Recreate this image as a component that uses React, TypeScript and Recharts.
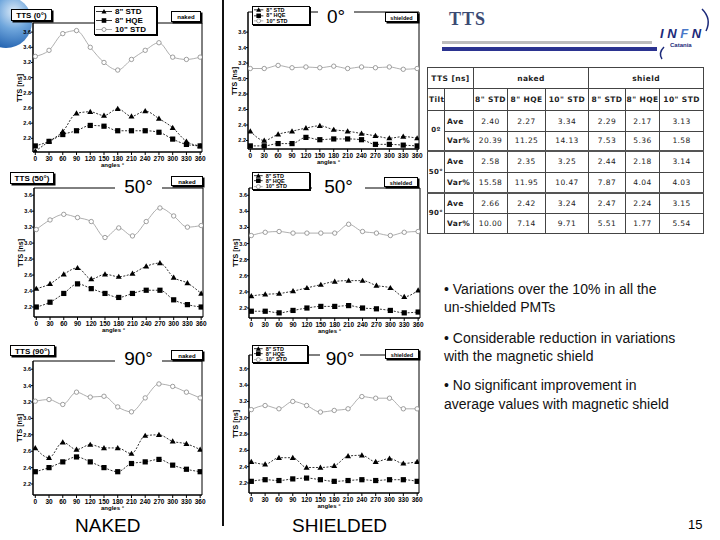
import { Line, LineChart, ReferenceArea, XAxis, YAxis } from "recharts";

const ANGLES = [0, 30, 60, 90, 120, 150, 180, 210, 240, 270, 300, 330, 360];
const Y_TICKS = [2.2, 2.4, 2.6, 2.8, 3.0, 3.2, 3.4, 3.6];

// naked, tilt 0
const NAKED_0_STD8 = [2.03, 2.16, 2.29, 2.53, 2.55, 2.5, 2.59, 2.49, 2.56, 2.46, 2.34, 2.16, 2.1];
const NAKED_0_HQE8 = [2.1, 2.16, 2.25, 2.3, 2.37, 2.36, 2.3, 2.3, 2.3, 2.28, 2.19, 2.12, 2.1];
const NAKED_0_STD10 = [3.28, 3.36, 3.58, 3.62, 3.4, 3.2, 3.1, 3.24, 3.36, 3.46, 3.27, 3.24, 3.27];
// shielded, tilt 0
const SHIELD_0_STD8 = [2.32, 2.2, 2.28, 2.32, 2.36, 2.39, 2.34, 2.32, 2.29, 2.26, 2.23, 2.25, 2.23];
const SHIELD_0_HQE8 = [2.13, 2.13, 2.16, 2.16, 2.24, 2.21, 2.22, 2.22, 2.21, 2.15, 2.15, 2.14, 2.13];
const SHIELD_0_STD10 = [3.13, 3.13, 3.17, 3.14, 3.15, 3.14, 3.16, 3.13, 3.15, 3.14, 3.15, 3.12, 3.13];
// naked, tilt 50
const NAKED_50_STD8 = [2.43, 2.49, 2.61, 2.69, 2.55, 2.61, 2.58, 2.62, 2.71, 2.75, 2.57, 2.5, 2.37];
const NAKED_50_HQE8 = [2.2, 2.26, 2.37, 2.49, 2.43, 2.37, 2.32, 2.37, 2.41, 2.41, 2.29, 2.23, 2.2];
const NAKED_50_STD10 = [3.17, 3.29, 3.36, 3.32, 3.27, 3.07, 3.19, 3.09, 3.27, 3.44, 3.34, 3.2, 3.22];
// shielded, tilt 50
const SHIELD_50_STD8 = [2.35, 2.37, 2.38, 2.41, 2.45, 2.49, 2.53, 2.54, 2.54, 2.48, 2.45, 2.34, 2.42];
const SHIELD_50_HQE8 = [2.16, 2.16, 2.14, 2.17, 2.2, 2.22, 2.22, 2.23, 2.2, 2.19, 2.17, 2.14, 2.15];
const SHIELD_50_STD10 = [3.1, 3.14, 3.15, 3.13, 3.13, 3.13, 3.13, 3.24, 3.15, 3.13, 3.1, 3.14, 3.15];
// naked, tilt 90
const NAKED_90_STD8 = [2.64, 2.52, 2.71, 2.62, 2.68, 2.64, 2.64, 2.57, 2.79, 2.8, 2.72, 2.69, 2.62];
const NAKED_90_HQE8 = [2.35, 2.4, 2.47, 2.53, 2.47, 2.4, 2.35, 2.45, 2.47, 2.5, 2.43, 2.38, 2.35];
const NAKED_90_STD10 = [3.21, 3.23, 3.17, 3.32, 3.26, 3.27, 3.14, 3.08, 3.25, 3.42, 3.39, 3.32, 3.25];
// shielded, tilt 90
const SHIELD_90_STD8 = [2.46, 2.43, 2.51, 2.51, 2.39, 2.39, 2.41, 2.53, 2.54, 2.46, 2.5, 2.44, 2.46];
const SHIELD_90_HQE8 = [2.22, 2.24, 2.23, 2.25, 2.26, 2.24, 2.22, 2.23, 2.24, 2.23, 2.24, 2.24, 2.22];
const SHIELD_90_STD10 = [3.1, 3.15, 3.11, 3.2, 3.15, 3.07, 3.09, 3.11, 3.26, 3.24, 3.24, 3.11, 3.11];

const TABLE_TILTS = ["0º", "50°", "90°"];
const TABLE_COLS = ['8" STD', '8" HQE', '10" STD', '8" STD', '8" HQE', '10" STD'];
const TABLE_AVE = [
  ["2.40", "2.27", "3.34", "2.29", "2.17", "3.13"],
  ["2.58", "2.35", "3.25", "2.44", "2.18", "3.14"],
  ["2.66", "2.42", "3.24", "2.47", "2.24", "3.15"],
];
const TABLE_VAR = [
  ["20.39", "11.25", "14.13", "7.53", "5.36", "1.58"],
  ["15.58", "11.95", "10.47", "7.87", "4.04", "4.03"],
  ["10.00", "7.14", "9.71", "5.51", "1.77", "5.54"],
];

const SANS = '"Liberation Sans", Arial, sans-serif';

const triDot = (p: any) => (
  <path
    key={`t${p.index}`}
    d={`M${p.cx},${p.cy - 3} L${p.cx + 3},${p.cy + 2.2} L${p.cx - 3},${p.cy + 2.2}Z`}
    fill="#000"
  />
);
const sqDot = (p: any) => <rect key={`s${p.index}`} x={p.cx - 2.6} y={p.cy - 2.6} width={5.2} height={5.2} fill="#000" />;
const circDot = (p: any) => (
  <circle key={`c${p.index}`} cx={p.cx} cy={p.cy} r={2.2} fill="#fff" stroke="#888" strokeWidth={0.8} />
);

type Box = { l: number; t: number; r: number; b: number; yMin: number; yMax: number };

function TtsPanel({ std8, hqe8, std10, box }: { std8: number[]; hqe8: number[]; std10: number[]; box: Box }) {
  const rows = ANGLES.map((angle, i) => ({ angle, std8: std8[i], hqe8: hqe8[i], std10: std10[i] }));
  const { l, t, r, b, yMin, yMax } = box;
  return (
    <>
      <div style={{ position: "absolute", left: l - 30, top: t - 4 }}>
        <LineChart width={r - l + 34} height={b - t + 22} data={rows} margin={{ top: 4, right: 4, bottom: 0, left: 0 }}>
          <XAxis
            dataKey="angle"
            type="number"
            domain={[-5, 364]}
            ticks={ANGLES}
            interval={0}
            allowDataOverflow
            height={18}
            tickSize={3}
            tickMargin={1}
            stroke="#000"
            tick={{ fontSize: 6.5, fontWeight: 700, fill: "#000", fontFamily: SANS }}
          />
          <YAxis
            type="number"
            domain={[yMin, yMax]}
            ticks={Y_TICKS}
            allowDataOverflow
            width={30}
            tickSize={2}
            tickMargin={0}
            stroke="#000"
            tickFormatter={(v: number) => v.toFixed(1)}
            tick={{ fontSize: 5.5, fontWeight: 700, fill: "#000", fontFamily: SANS }}
          />
          <ReferenceArea x1={-5} x2={364} y1={yMin} y2={yMax} fill="none" stroke="#000" strokeWidth={1} />
          <Line dataKey="std10" type="monotone" stroke="#9a9a9a" strokeWidth={0.8} dot={circDot} isAnimationActive={false} />
          <Line dataKey="std8" type="monotone" stroke="#000" strokeWidth={0.8} strokeDasharray="2 1.5" dot={triDot} isAnimationActive={false} />
          <Line dataKey="hqe8" type="monotone" stroke="#000" strokeWidth={0.8} strokeDasharray="2 1.5" dot={sqDot} isAnimationActive={false} />
        </LineChart>
      </div>
      <div
        style={{
          position: "absolute",
          left: l - 14,
          top: (t + b) / 2,
          transform: "translate(-50%, -50%) rotate(-90deg)",
          fontSize: 7,
          fontWeight: 700,
          whiteSpace: "nowrap",
        }}
      >
        TTS [ns]
      </div>
      <div
        style={{
          position: "absolute",
          left: (l + r) / 2 - 5,
          top: b + 10,
          transform: "translateX(-50%)",
          fontSize: 6,
          fontWeight: 700,
          whiteSpace: "nowrap",
        }}
      >
        angles °
      </div>
    </>
  );
}

function TagBox({ left, top, w, h, text, size }: { left: number; top: number; w: number; h: number; text: string; size: number }) {
  return (
    <div
      style={{
        position: "absolute",
        left,
        top,
        width: w,
        height: h,
        border: "1px solid #000",
        boxShadow: "1.5px 1.5px 0 #000",
        background: "#fff",
        fontSize: size,
        fontWeight: 700,
        lineHeight: `${h}px`,
        textAlign: "center",
        whiteSpace: "nowrap",
        boxSizing: "border-box",
      }}
    >
      {text}
    </div>
  );
}

function LegendBox({ left, top, w, h, size }: { left: number; top: number; w: number; h: number; size: number }) {
  const entries = [
    { label: '8" STD', m: "tri" },
    { label: '8" HQE', m: "sq" },
    { label: '10" STD', m: "circ" },
  ];
  const rowH = (h - 2) / 3;
  return (
    <div
      style={{
        position: "absolute",
        left,
        top,
        width: w,
        height: h,
        border: "1px solid #000",
        boxShadow: "1px 1px 0 #000",
        background: "#fff",
        boxSizing: "border-box",
      }}
    >
      {entries.map((e) => (
        <div key={e.label} style={{ display: "flex", alignItems: "center", height: rowH, fontSize: size, fontWeight: 700 }}>
          <svg width={rowH * 2} height={rowH} style={{ flex: "none" }}>
            <line x1={1} x2={rowH * 2 - 1} y1={rowH / 2} y2={rowH / 2} stroke={e.m === "circ" ? "#999" : "#000"} strokeWidth={0.8} />
            {e.m === "tri" && (
              <path d={`M${rowH},${rowH / 2 - 2.5} L${rowH + 2.5},${rowH / 2 + 2} L${rowH - 2.5},${rowH / 2 + 2}Z`} fill="#000" />
            )}
            {e.m === "sq" && <rect x={rowH - 2.3} y={rowH / 2 - 2.3} width={4.6} height={4.6} fill="#000" />}
            {e.m === "circ" && <circle cx={rowH} cy={rowH / 2} r={2} fill="#fff" stroke="#888" strokeWidth={0.8} />}
          </svg>
          <span style={{ marginLeft: 2, whiteSpace: "nowrap" }}>{e.label}</span>
        </div>
      ))}
    </div>
  );
}

function BigLabel({ left, top, w, text }: { left: number; top: number; w: number; text: string }) {
  return (
    <div
      style={{
        position: "absolute",
        left,
        top,
        width: w,
        textAlign: "center",
        background: "#fff",
        fontSize: 19,
        lineHeight: "19px",
        fontFamily: SANS,
      }}
    >
      {text}
    </div>
  );
}

function TtsTable() {
  const colW = [17, 29, 34, 38, 43, 37, 34, 44];
  const rowH = [21, 22, 21, 19, 22, 20, 21, 20];
  const cell = (extra: any = {}) => ({
    border: "1px solid #444",
    padding: 0,
    textAlign: "center" as const,
    verticalAlign: "middle" as const,
    fontSize: 7.5,
    letterSpacing: 0.4,
    color: "#222",
    overflow: "hidden",
    whiteSpace: "nowrap" as const,
    ...extra,
  });
  const groupTop = (g: number) => (g > 0 ? { borderTop: "2px solid #555" } : {});
  return (
    <table
      style={{
        position: "absolute",
        left: 427,
        top: 67,
        width: 276,
        borderCollapse: "collapse",
        tableLayout: "fixed",
        fontFamily: '"DejaVu Sans", sans-serif',
      }}
    >
      <colgroup>
        {colW.map((w, i) => (
          <col key={i} style={{ width: w }} />
        ))}
      </colgroup>
      <tbody>
        <tr style={{ height: rowH[0] }}>
          <td colSpan={2} style={cell({ fontWeight: 700 })}>TTS [ns]</td>
          <td colSpan={3} style={cell({ fontWeight: 700 })}>naked</td>
          <td colSpan={3} style={cell({ fontWeight: 700 })}>shield</td>
        </tr>
        <tr style={{ height: rowH[1] }}>
          <td style={cell({ fontWeight: 700, textAlign: "left", paddingLeft: 1 })}>Tilt</td>
          <td style={cell()}></td>
          {TABLE_COLS.map((c, i) => (
            <td key={i} style={cell({ fontWeight: 700 })}>{c}</td>
          ))}
        </tr>
        {TABLE_TILTS.map((tilt, g) => [
          <tr key={`a${g}`} style={{ height: rowH[2 + g * 2] }}>
            <td rowSpan={2} style={cell({ fontWeight: 700, fontSize: 7, ...groupTop(g) })}>{tilt}</td>
            <td style={cell({ fontWeight: 700, textAlign: "left", paddingLeft: 2, ...groupTop(g) })}>Ave</td>
            {TABLE_AVE[g].map((v, i) => (
              <td key={i} style={cell(groupTop(g))}>{v}</td>
            ))}
          </tr>,
          <tr key={`v${g}`} style={{ height: rowH[3 + g * 2] }}>
            <td style={cell({ fontWeight: 700, textAlign: "left", paddingLeft: 2 })}>Var%</td>
            {TABLE_VAR[g].map((v, i) => (
              <td key={i} style={cell()}>{v}</td>
            ))}
          </tr>,
        ])}
      </tbody>
    </table>
  );
}

export default function App() {
  return (
    <div
      style={{
        position: "absolute",
        left: 0,
        top: 0,
        width: 720,
        height: 540,
        background: "#fff",
        overflow: "hidden",
        fontFamily: SANS,
        color: "#000",
      }}
    >
      <div
        style={{
          position: "absolute",
          left: -20,
          top: -4,
          width: 52,
          height: 52,
          borderRadius: "50%",
          background: "radial-gradient(circle at 65% 30%, #dbeaf8 0%, #6fa6dc 35%, #1f5fae 80%, #174a8a 100%)",
        }}
      />

      <TtsPanel std8={NAKED_0_STD8} hqe8={NAKED_0_HQE8} std10={NAKED_0_STD10} box={{ l: 33, t: 23, r: 202, b: 152, yMin: 2.02, yMax: 3.72 }} />
      <TtsPanel std8={SHIELD_0_STD8} hqe8={SHIELD_0_HQE8} std10={SHIELD_0_STD10} box={{ l: 248, t: 12, r: 419, b: 149, yMin: 2.09, yMax: 3.86 }} />
      <TtsPanel std8={NAKED_50_STD8} hqe8={NAKED_50_HQE8} std10={NAKED_50_STD10} box={{ l: 34, t: 188, r: 203, b: 317, yMin: 2.075, yMax: 3.69 }} />
      <TtsPanel std8={SHIELD_50_STD8} hqe8={SHIELD_50_HQE8} std10={SHIELD_50_STD10} box={{ l: 249, t: 188, r: 420, b: 318, yMin: 2.076, yMax: 3.69 }} />
      <TtsPanel std8={NAKED_90_STD8} hqe8={NAKED_90_HQE8} std10={NAKED_90_STD10} box={{ l: 33, t: 361, r: 202, b: 495, yMin: 2.066, yMax: 3.7 }} />
      <TtsPanel std8={SHIELD_90_STD8} hqe8={SHIELD_90_HQE8} std10={SHIELD_90_STD10} box={{ l: 249, t: 355, r: 419, b: 493, yMin: 2.077, yMax: 3.77 }} />

      <TagBox left={11} top={9} w={41} h={12} text="TTS (0°)" size={8} />
      <TagBox left={10} top={172} w={44} h={12} text="TTS (50°)" size={8} />
      <TagBox left={10} top={345} w={45} h={11} text="TTS (90°)" size={8} />

      <TagBox left={171} top={11} w={30} h={11} text="naked" size={6} />
      <TagBox left={171} top={176} w={32} h={10} text="naked" size={6} />
      <TagBox left={171} top={350} w={32} h={10} text="naked" size={6} />
      <TagBox left={385} top={12} w={33} h={10} text="shielded" size={5.5} />
      <TagBox left={384} top={177} w={34} h={10} text="shielded" size={5.5} />
      <TagBox left={385} top={349} w={34} h={10} text="shielded" size={5.5} />

      <LegendBox left={94} top={6} w={63} h={29} size={8} />
      <LegendBox left={252} top={6} w={58} h={19} size={5.5} />
      <LegendBox left={252} top={172} w={58} h={18} size={5.5} />
      <LegendBox left={252} top={345} w={56} h={18} size={5.5} />

      <BigLabel left={318} top={7} w={36} text="0°" />
      <BigLabel left={115} top={177} w={47} text="50°" />
      <BigLabel left={312} top={177} w={53} text="50°" />
      <BigLabel left={115} top={349} w={47} text="90°" />
      <BigLabel left={320} top={349} w={40} text="90°" />

      <div style={{ position: "absolute", left: 222, top: 0, width: 1.5, height: 526, background: "#111" }} />

      <div style={{ position: "absolute", left: 75, top: 515, fontSize: 19 }}>NAKED</div>
      <div style={{ position: "absolute", left: 292, top: 515, fontSize: 19 }}>SHIELDED</div>

      <div
        style={{
          position: "absolute",
          left: 449,
          top: 9,
          fontFamily: '"Liberation Serif", serif',
          fontWeight: 700,
          fontSize: 18,
          color: "#3b4a73",
          letterSpacing: 1,
        }}
      >
        TTS
      </div>
      <div style={{ position: "absolute", left: 442, top: 41, width: 210, height: 3, background: "#bdbdbd" }} />
      <div style={{ position: "absolute", left: 442, top: 47, width: 215, height: 4, background: "#2b3390" }} />
      <svg style={{ position: "absolute", left: 650, top: 5 }} width={65} height={55}>
        <path d="M52,4 Q62,14 56,26" fill="none" stroke="#1c2a7a" strokeWidth={1.5} />
        <path d="M14,42 Q8,48 12,54" fill="none" stroke="#1c2a7a" strokeWidth={1.5} />
        <text x={10} y={33} fontSize={13} fontWeight={700} fontStyle="italic" fill="#1c2a7a" fontFamily={SANS}>
          I N <tspan fill="#4a78c8">F</tspan> N
        </text>
        <text x={20} y={42} fontSize={6} fontWeight={700} fill="#1c2a7a" fontFamily={SANS}>
          Catania
        </text>
      </svg>

      <TtsTable />

      <div style={{ position: "absolute", left: 444, top: 280, fontSize: 14, lineHeight: "18px", color: "#111" }}>
        • Variations over the 10% in all the
        <br />
        un-shielded PMTs
      </div>
      <div style={{ position: "absolute", left: 444, top: 329, fontSize: 14, lineHeight: "18px", color: "#111" }}>
        • Considerable reduction in variations
        <br />
        with the magnetic shield
      </div>
      <div style={{ position: "absolute", left: 444, top: 376, fontSize: 14, lineHeight: "19px", color: "#111" }}>
        • No significant improvement in
        <br />
        average values with magnetic shield
      </div>
      <div style={{ position: "absolute", left: 688, top: 517, fontSize: 13 }}>15</div>
    </div>
  );
}
